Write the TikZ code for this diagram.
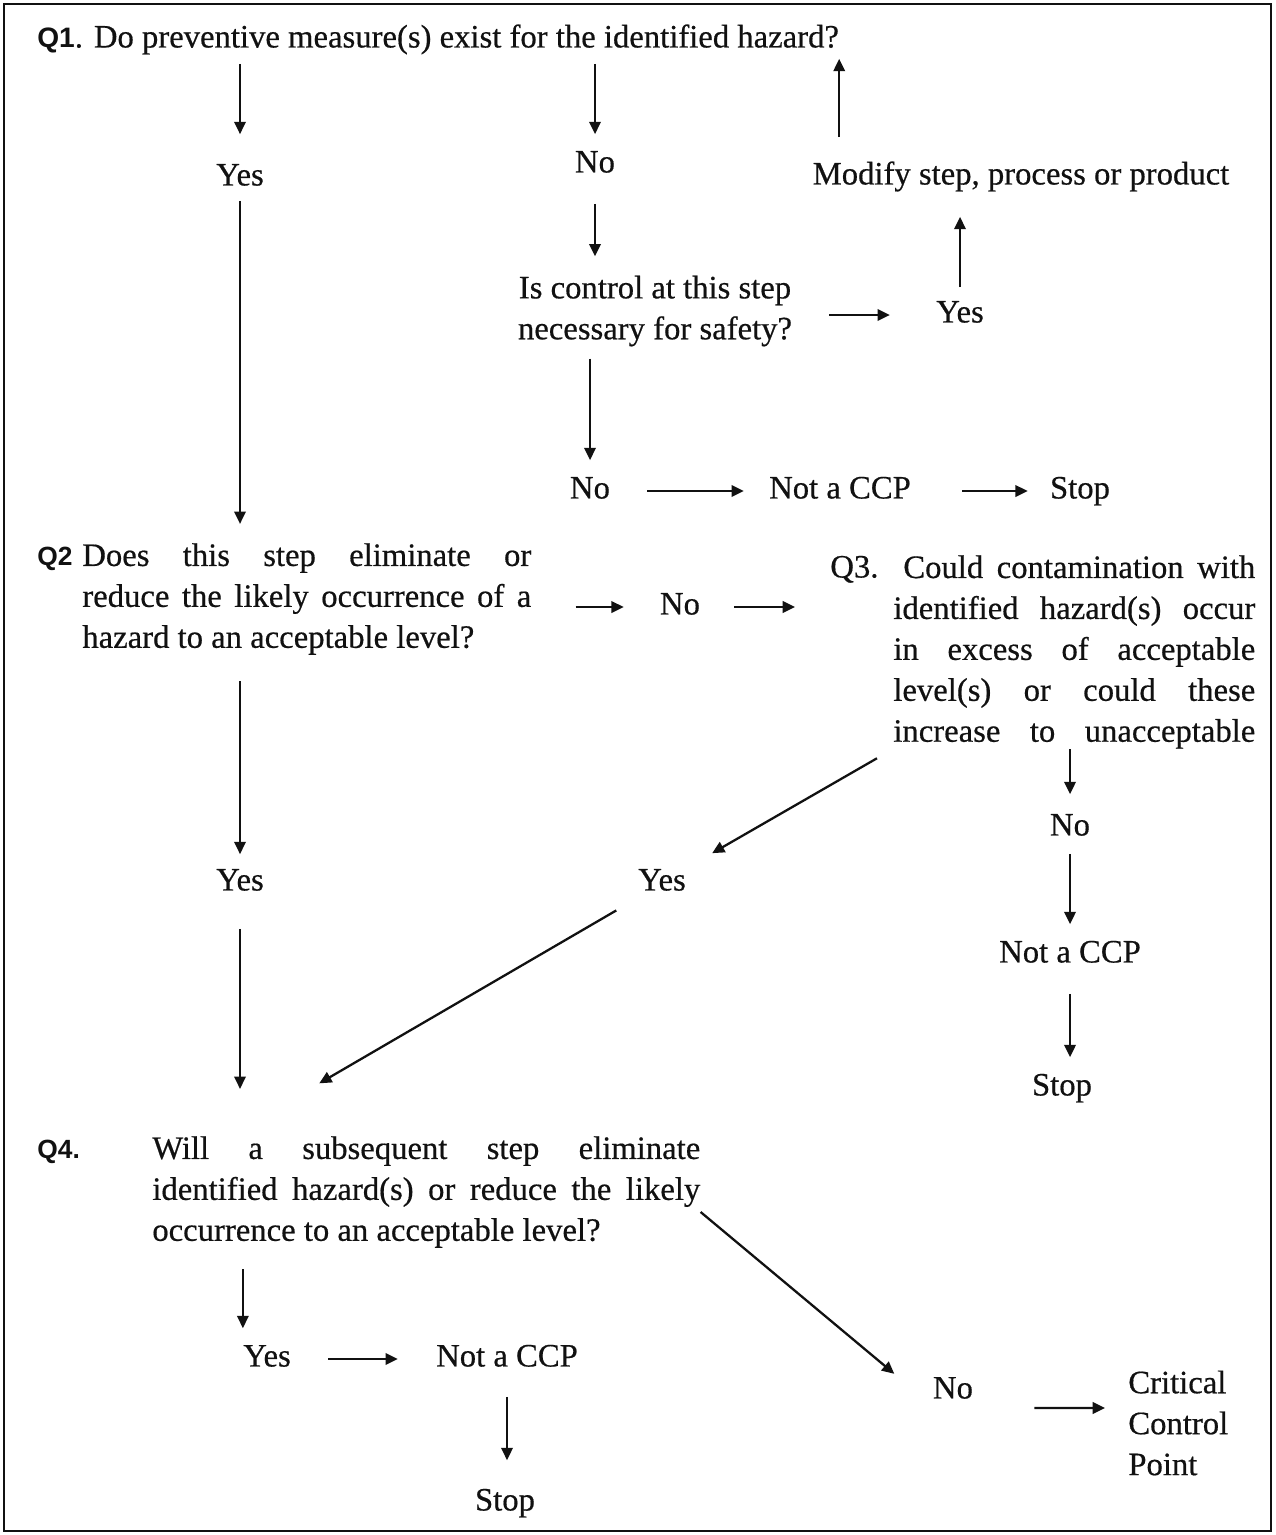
\documentclass[tikz,border=0pt]{standalone}
\usepackage{fontspec}
\setmainfont{Liberation Serif}[FakeBold=0.5]
\newfontfamily\qsans{Liberation Sans}
\usetikzlibrary{arrows.meta}
\definecolor{ink}{HTML}{111111}
\newcommand{\jl}[2]{\makebox[#1][s]{#2}}
\tikzset{
  word/.style={inner sep=0pt,text height=12.5pt,text depth=4pt,font=\fontsize{18.6}{23.3}\selectfont,text=ink},
  para/.style={inner sep=0pt,align=left,font=\fontsize{18.6}{23.3}\selectfont,text=ink},
  qtag/.style={inner sep=0pt,text height=12.5pt,text depth=4pt,font=\qsans\bfseries\fontsize{15}{20}\selectfont,text=ink},
  flow/.style={-{Triangle[length=7pt,width=6.5pt]},line width=1.3pt,draw=ink},
  frame/.style={draw=ink,line width=1.5pt}
}

\begin{document}
\begin{tikzpicture}[x=0.02cm,y=-0.02cm]
  \useasboundingbox (0,0) rectangle (1275,1535);
  \draw[frame] (4,4) rectangle (1271,1531);

  \node[word,anchor=west] (q1) at (37,40) {{\qsans\bfseries\fontsize{16}{20}\selectfont Q1}. Do preventive measure(s) exist for the identified hazard?};
  \node[word] (yes1) at (240,178) {Yes};
  \node[word] (no1) at (595,165) {No};
  \node[word] (modify) at (1021,177) {Modify step, process or product};
  \node[para,align=center] (ctrl) at (655,311) {Is control at this step\\necessary for safety?};
  \node[word] (yes2) at (960,315) {Yes};
  \node[word] (no2) at (590,491) {No};
  \node[word] (notccp1) at (840,491) {Not a CCP};
  \node[word] (stop1) at (1080,491) {Stop};

  \node[qtag,anchor=west] (q2lab) at (37,558) {Q2};
  \node[para,anchor=west] (q2) at (82,599) {\jl{8.98cm}{Does this step eliminate or}\\\jl{8.98cm}{reduce the likely occurrence of a}\\hazard to an acceptable level?};
  \node[word] (no3) at (680,607) {No};
  \node[word,anchor=west] (q3lab) at (830,570) {Q3.};
  \node[para,anchor=west] (q3) at (893,652) {\jl{7.24cm}{\hspace{0.2cm}Could contamination with}\\\jl{7.24cm}{identified hazard(s) occur}\\\jl{7.24cm}{in excess of acceptable}\\\jl{7.24cm}{level(s) or could these}\\\jl{7.24cm}{increase to unacceptable}};
  \node[word] (no4) at (1070,828) {No};
  \node[word] (notccp2) at (1070,955) {Not a CCP};
  \node[word] (stop2) at (1062,1088) {Stop};
  \node[word] (yes3) at (662,883) {Yes};
  \node[word] (yes4) at (240,883) {Yes};

  \node[qtag,anchor=west] (q4lab) at (37,1151) {Q4.};
  \node[para,anchor=west] (q4) at (152,1192) {\jl{10.96cm}{Will a subsequent step eliminate}\\\jl{10.96cm}{identified hazard(s) or reduce the likely}\\occurrence to an acceptable level?};
  \node[word] (yes5) at (267,1359) {Yes};
  \node[word] (notccp3) at (507,1359) {Not a CCP};
  \node[word] (stop3) at (505,1503) {Stop};
  \node[word] (no5) at (953,1391) {No};
  \node[para,anchor=west] (ccp) at (1128,1423) {Critical\\Control\\Point};

  \draw[flow,shorten <=0.18cm,shorten >=0.58cm] (q1.south -| yes1) -- (yes1.north);
  \draw[flow,shorten <=0.18cm,shorten >=0.32cm] (q1.south -| no1) -- (no1.north);
  \draw[flow,shorten <=0.5cm,shorten >=0.08cm] (modify.north -| q1.east) -- (q1.south east);
  \draw[flow,shorten <=0.48cm,shorten >=0.38cm] (no1.south) -- (ctrl.north -| no1);
  \draw[flow,shorten <=0.74cm,shorten >=0.92cm] (ctrl.east |- yes2.west) -- (yes2.west);
  \draw[flow,shorten <=0.26cm,shorten >=0.5cm] (yes2.north) -- (modify.south -| yes2);
  \draw[flow,shorten <=0.24cm,shorten >=0.32cm] (ctrl.south -| no2) -- (no2.north);
  \draw[flow,shorten <=0.74cm,shorten >=0.5cm] (no2.east) -- (notccp1.west);
  \draw[flow,shorten <=1.02cm,shorten >=0.44cm] (notccp1.east) -- (stop1.west);

  \draw[flow,shorten <=0.16cm,shorten >=0.38cm] (yes1.south) -- (q2.north -| yes1);
  \draw[flow,shorten <=0.88cm,shorten >=0.72cm] (q2.east |- no3.west) -- (no3.west);
  \draw[flow,shorten <=0.68cm,shorten >=0.7cm] (no3.east) -- (no3.east -| q3lab.west);
  \draw[flow,shorten >=0.38cm] (q3.south -| no4) -- (no4.north);
  \draw[flow,shorten <=0.22cm,shorten >=0.32cm] (no4.south) -- (notccp2.north);
  \draw[flow,shorten <=0.48cm,shorten >=0.32cm] (notccp2.south) -- (stop2.north -| notccp2);
  \draw[flow,shorten <=0.37cm,shorten >=0.6cm] (q3.south west) -- (yes3.north east);

  \draw[flow,shorten <=0.52cm,shorten >=0.28cm] (q2.south -| yes4) -- (yes4.north);
  \draw[flow,shorten <=0.62cm,shorten >=0.94cm] (yes4.south) -- (q4.north -| yes4);
  \draw[flow,shorten <=0.5cm,shorten >=2.09cm] (yes3.south west) -- ([xshift=1.54cm]q4.north west);

  \draw[flow,shorten >=1.0cm] ([yshift=-0.4cm]q4.east) -- (no5.south west);
  \draw[flow,shorten <=1.22cm,shorten >=0.46cm] ([yshift=-0.34cm]no5.east) -- ([yshift=0.3cm]ccp.west);
  \draw[flow,shorten <=0.42cm,shorten >=0.32cm] (q4.south -| yes5.west) -- (yes5.north west);
  \draw[flow,shorten <=0.74cm,shorten >=0.76cm] (yes5.east) -- (notccp3.west);
  \draw[flow,shorten <=0.46cm,shorten >=0.56cm] (notccp3.south) -- (stop3.north -| notccp3.south);
\end{tikzpicture}
\end{document}
